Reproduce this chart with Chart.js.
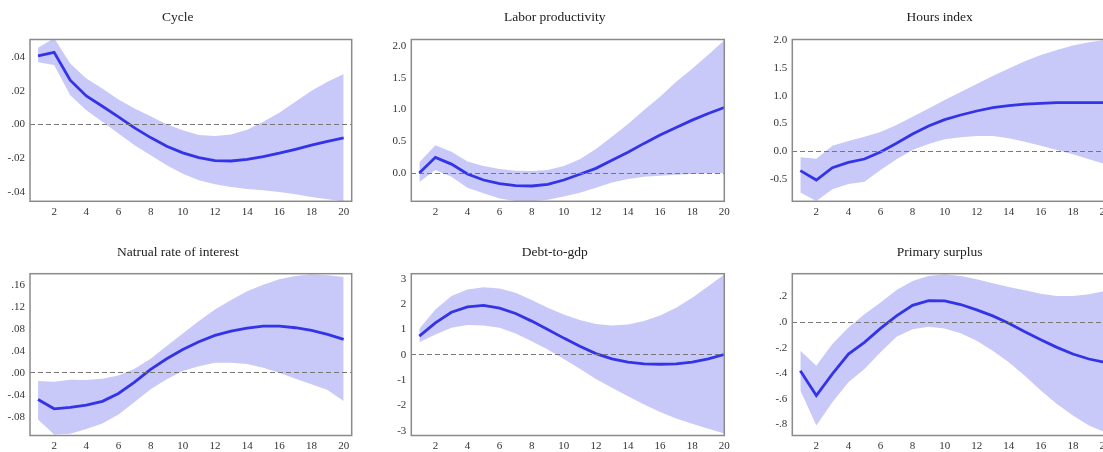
<!DOCTYPE html>
<html lang="en">
<head>
<meta charset="UTF-8">
<title>Impulse responses</title>
<style>
  html, body { margin: 0; padding: 0; background: #fff; overflow: hidden; }
  .page { position: relative; width: 1103px; height: 452px; overflow: hidden; }
  canvas { position: absolute; }
</style>
</head>
<body>
<div class="page">
  <canvas id="cycleChart"></canvas>
  <canvas id="laborChart"></canvas>
  <canvas id="hoursChart"></canvas>
  <canvas id="rateChart"></canvas>
  <canvas id="debtChart"></canvas>
  <canvas id="surplusChart"></canvas>
</div>

<script src="https://cdn.jsdelivr.net/npm/chart.js"></script>
<script>
  // horizons and x tick marks
  const periods = [1, 2, 3, 4, 5, 6, 7, 8, 9, 10, 11, 12, 13, 14, 15, 16, 17, 18, 19, 20];
  const xTicks = [2, 4, 6, 8, 10, 12, 14, 16, 18, 20];

  // Cycle
  const cycleMid = [0.0406, 0.0426, 0.0262, 0.0169, 0.0108, 0.0045, -0.0020, -0.0077, -0.0128, -0.0167, -0.0195, -0.0213, -0.0215, -0.0205, -0.0189, -0.0169, -0.0146, -0.0122, -0.0099, -0.0079];
  const cycleHi = [0.0453, 0.0510, 0.0360, 0.0272, 0.0213, 0.0148, 0.0095, 0.0049, 0.0002, -0.0034, -0.0061, -0.0067, -0.0059, -0.0030, 0.0016, 0.0069, 0.0134, 0.0199, 0.0253, 0.0298];
  const cycleLo = [0.0367, 0.0351, 0.0173, 0.0085, 0.0016, -0.0053, -0.0122, -0.0181, -0.0240, -0.0290, -0.0329, -0.0353, -0.0368, -0.0380, -0.0388, -0.0398, -0.0412, -0.0428, -0.0441, -0.0453];
  const cycleTicks = [-0.04, -0.02, 0, 0.02, 0.04];
  const cycleTickLabels = ['-.04', '-.02', '.00', '.02', '.04'];

  // Labor productivity
  const laborMid = [0.00, 0.246, 0.14, -0.016, -0.11, -0.168, -0.20, -0.204, -0.178, -0.11, -0.02, 0.073, 0.20, 0.325, 0.466, 0.597, 0.717, 0.832, 0.937, 1.03];
  const laborHi = [0.17, 0.435, 0.335, 0.18, 0.11, 0.063, 0.037, 0.031, 0.047, 0.11, 0.215, 0.377, 0.57, 0.77, 0.99, 1.20, 1.435, 1.64, 1.86, 2.09];
  const laborLo = [-0.14, 0.047, -0.058, -0.23, -0.32, -0.40, -0.44, -0.445, -0.42, -0.37, -0.31, -0.23, -0.15, -0.094, -0.058, -0.042, -0.026, -0.016, -0.005, 0.00];
  const laborTicks = [0, 0.5, 1, 1.5, 2];
  const laborTickLabels = ['0.0', '0.5', '1.0', '1.5', '2.0'];

  // Hours index
  const hoursMid = [-0.347, -0.515, -0.293, -0.198, -0.138, -0.012, 0.144, 0.311, 0.455, 0.569, 0.653, 0.725, 0.784, 0.82, 0.85, 0.862, 0.874, 0.874, 0.874, 0.874];
  const hoursHi = [-0.108, -0.132, 0.102, 0.186, 0.263, 0.347, 0.473, 0.623, 0.772, 0.922, 1.066, 1.21, 1.353, 1.49, 1.62, 1.73, 1.82, 1.90, 1.96, 2.00];
  const hoursLo = [-0.742, -0.892, -0.683, -0.587, -0.545, -0.335, -0.144, 0.024, 0.132, 0.216, 0.251, 0.275, 0.275, 0.234, 0.174, 0.102, 0.024, -0.054, -0.144, -0.228];
  const hoursTicks = [-0.5, 0, 0.5, 1, 1.5, 2];
  const hoursTickLabels = ['-0.5', '0.0', '0.5', '1.0', '1.5', '2.0'];

  // Natrual rate of interest
  const rateMid = [-0.0485, -0.0655, -0.063, -0.059, -0.052, -0.0376, -0.017, 0.006, 0.0255, 0.0424, 0.0564, 0.068, 0.0758, 0.0812, 0.0848, 0.0848, 0.0818, 0.077, 0.0697, 0.0606];
  const rateHi = [-0.015, -0.0164, -0.0127, -0.0133, -0.011, -0.0048, 0.0073, 0.0255, 0.0485, 0.0715, 0.094, 0.115, 0.132, 0.148, 0.160, 0.170, 0.176, 0.179, 0.177, 0.174];
  const rateLo = [-0.085, -0.112, -0.111, -0.102, -0.092, -0.076, -0.053, -0.030, -0.012, 0.003, 0.012, 0.018, 0.018, 0.016, 0.009, 0.000, -0.011, -0.021, -0.0315, -0.0515];
  const rateTicks = [-0.08, -0.04, 0, 0.04, 0.08, 0.12, 0.16];
  const rateTickLabels = ['-.08', '-.04', '.00', '.04', '.08', '.12', '.16'];

  // Debt-to-gdp
  const debtMid = [0.737, 1.26, 1.68, 1.89, 1.95, 1.84, 1.63, 1.33, 1.00, 0.66, 0.34, 0.05, -0.16, -0.29, -0.355, -0.37, -0.355, -0.29, -0.16, 0.013];
  const debtHi = [1.03, 1.79, 2.32, 2.58, 2.67, 2.62, 2.45, 2.16, 1.86, 1.59, 1.37, 1.22, 1.16, 1.20, 1.33, 1.55, 1.86, 2.25, 2.71, 3.17];
  const debtLo = [0.50, 0.80, 1.07, 1.18, 1.16, 1.07, 0.84, 0.54, 0.21, -0.16, -0.55, -0.95, -1.30, -1.63, -1.96, -2.25, -2.51, -2.72, -2.91, -3.10];
  const debtTicks = [-3, -2, -1, 0, 1, 2, 3];
  const debtTickLabels = ['-3', '-2', '-1', '0', '1', '2', '3'];

  // Primary surplus
  const surplusMid = [-0.379, -0.574, -0.405, -0.249, -0.158, -0.049, 0.049, 0.132, 0.169, 0.166, 0.138, 0.096, 0.049, -0.008, -0.075, -0.138, -0.197, -0.249, -0.288, -0.314];
  const surplusHi = [-0.223, -0.34, -0.171, -0.042, 0.062, 0.153, 0.252, 0.322, 0.361, 0.374, 0.361, 0.335, 0.304, 0.275, 0.249, 0.223, 0.205, 0.205, 0.218, 0.244];
  const surplusLo = [-0.535, -0.808, -0.626, -0.47, -0.366, -0.236, -0.114, -0.055, -0.036, -0.049, -0.086, -0.145, -0.223, -0.314, -0.418, -0.535, -0.639, -0.73, -0.808, -0.86];
  const surplusTicks = [-0.8, -0.6, -0.4, -0.2, 0, 0.2];
  const surplusTickLabels = ['-.8', '-.6', '-.4', '-.2', '.0', '.2'];

  Chart.defaults.font.family = "'Liberation Serif', 'Times New Roman', serif";
  Chart.defaults.color = '#333';

  const lineBlue = '#3333e8';
  const bandColor = '#c9c9f9';

  // page geometry: canvas slots and the plot boxes inside them
  const colLeft = [0, 370, 740], colWidth = [370, 370, 380];
  const boxLeft = [30, 411.3, 792.3], boxRight = [351.7, 724.3, 1113];
  const rowTop = [0, 226], canvasHeight = 240;
  const boxTop = [39.5, 273.7], boxBottom = [201.3, 435.5], titleMid = [17, 252];
  const yAxisWidth = 26, xAxisHeight = 20, titleSize = 13.5;

  const framePlugin = {
    id: 'frame',
    afterDraw(chart) {
      const { ctx, chartArea: a } = chart;
      ctx.save();
      ctx.strokeStyle = '#8a8a8a';
      ctx.lineWidth = 1.5;
      ctx.strokeRect(a.left, a.top, a.right - a.left, a.bottom - a.top);
      ctx.restore();
    }
  };

  const pts = arr => periods.map((p, i) => ({ x: p, y: arr[i] }));

  function drawPanel(id, row, col, title, mid, hi, lo, yTicks, yLabels, yMin, yMax, xMax) {
    const canvas = document.getElementById(id);
    canvas.width = colWidth[col];
    canvas.height = canvasHeight;
    canvas.style.left = colLeft[col] + 'px';
    canvas.style.top = rowTop[row] + 'px';

    const padTop = titleMid[row] - rowTop[row] - titleSize * 0.6;
    const titleGap = boxTop[row] - rowTop[row] - padTop - titleSize * 1.2;

    new Chart(canvas, {
      type: 'line',
      data: {
        datasets: [
          { data: pts(mid), borderColor: lineBlue, borderWidth: 2.8, pointRadius: 0, fill: false, order: 0 },
          { data: pts(hi), borderWidth: 0, borderColor: bandColor, backgroundColor: bandColor, pointRadius: 0, fill: '+1', order: 1 },
          { data: pts(lo), borderWidth: 0, borderColor: bandColor, pointRadius: 0, fill: false, order: 2 }
        ]
      },
      options: {
        responsive: false,
        animation: false,
        events: [],
        layout: {
          padding: {
            left: boxLeft[col] - colLeft[col] - yAxisWidth,
            right: colLeft[col] + colWidth[col] - boxRight[col],
            top: padTop,
            bottom: rowTop[row] + canvasHeight - boxBottom[row] - xAxisHeight
          }
        },
        plugins: {
          legend: { display: false },
          tooltip: { enabled: false },
          title: {
            display: true,
            text: title,
            color: '#222',
            font: { size: titleSize, weight: 'normal' },
            padding: { top: 0, bottom: titleGap }
          }
        },
        scales: {
          x: {
            type: 'linear',
            min: 0.5,
            max: xMax,
            grid: { display: false, drawTicks: false },
            border: { display: false },
            afterBuildTicks: s => { s.ticks = xTicks.map(v => ({ value: v })); },
            afterFit: s => { s.height = xAxisHeight; },
            ticks: { padding: 4, font: { size: 11 }, autoSkip: false, maxRotation: 0 }
          },
          y: {
            min: yMin,
            max: yMax,
            grid: {
              z: 1,
              drawTicks: false,
              lineWidth: 1,
              color: c => (c.tick && Math.abs(c.tick.value) < 1e-9) ? '#777' : 'rgba(0,0,0,0)'
            },
            border: { display: false, dash: [5, 3] },
            afterBuildTicks: s => { s.ticks = yTicks.map(v => ({ value: v })); },
            afterFit: s => { s.width = yAxisWidth; },
            ticks: { padding: 5, font: { size: 11 }, autoSkip: false, callback: (v, i) => yLabels[i] }
          }
        }
      },
      plugins: [framePlugin]
    });
  }

  drawPanel('cycleChart', 0, 0, 'Cycle', cycleMid, cycleHi, cycleLo, cycleTicks, cycleTickLabels, -0.0453, 0.0502, 20.5);
  drawPanel('laborChart', 0, 1, 'Labor productivity', laborMid, laborHi, laborLo, laborTicks, laborTickLabels, -0.445, 2.1, 20);
  drawPanel('hoursChart', 0, 2, 'Hours index', hoursMid, hoursHi, hoursLo, hoursTicks, hoursTickLabels, -0.898, 2.01, 20.5);
  drawPanel('rateChart', 1, 0, 'Natrual rate of interest', rateMid, rateHi, rateLo, rateTicks, rateTickLabels, -0.114, 0.18, 20.5);
  drawPanel('debtChart', 1, 1, 'Debt-to-gdp', debtMid, debtHi, debtLo, debtTicks, debtTickLabels, -3.18, 3.2, 20);
  drawPanel('surplusChart', 1, 2, 'Primary surplus', surplusMid, surplusHi, surplusLo, surplusTicks, surplusTickLabels, -0.886, 0.379, 20.5);
</script>
</body>
</html>
